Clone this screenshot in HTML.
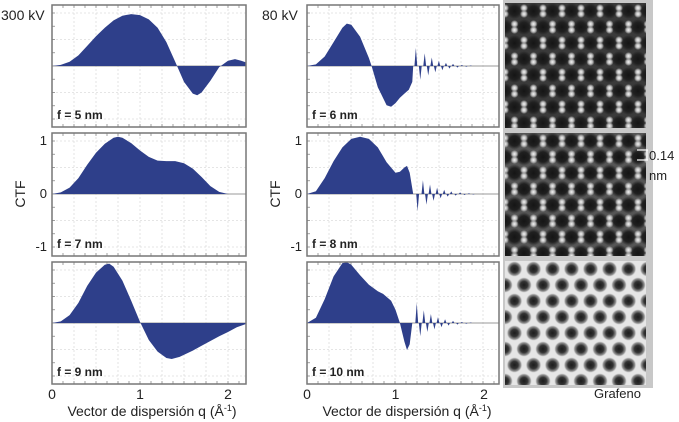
<!DOCTYPE html>
<html><head><meta charset="utf-8"><style>
html,body{margin:0;padding:0;background:#fff;}
svg{display:block;font-family:"Liberation Sans",sans-serif;}
</style></head><body>
<svg id="fig" width="679" height="422" viewBox="0 0 679 422">
<defs>
<radialGradient id="holeG"><stop offset="0" stop-color="#151515"/><stop offset="0.6" stop-color="#202020"/><stop offset="1" stop-color="#202020" stop-opacity="0"/></radialGradient>
<radialGradient id="dotG"><stop offset="0" stop-color="#f4f4f4"/><stop offset="0.5" stop-color="#bbb"/><stop offset="1" stop-color="#bbb" stop-opacity="0"/></radialGradient>
<radialGradient id="holeB"><stop offset="0" stop-color="#1c1c1c"/><stop offset="0.45" stop-color="#333"/><stop offset="0.8" stop-color="#999"/><stop offset="1" stop-color="#ddd" stop-opacity="0"/></radialGradient>
<pattern id="patTop" width="19" height="32" patternUnits="userSpaceOnUse" x="505" y="3">
<rect width="19" height="32" fill="#3a3a3a"/>
<circle cx="9.5" cy="8" r="8" fill="url(#holeG)"/><circle cx="0" cy="24" r="8" fill="url(#holeG)"/><circle cx="19" cy="24" r="8" fill="url(#holeG)"/>
<circle cx="0" cy="5" r="4" fill="url(#dotG)"/><circle cx="19" cy="5" r="4" fill="url(#dotG)"/><circle cx="0" cy="11" r="4" fill="url(#dotG)"/><circle cx="19" cy="11" r="4" fill="url(#dotG)"/>
<circle cx="9.5" cy="21" r="4" fill="url(#dotG)"/><circle cx="9.5" cy="27" r="4" fill="url(#dotG)"/>
</pattern>
<pattern id="patMid" width="19" height="32" patternUnits="userSpaceOnUse" x="505" y="133">
<rect width="19" height="32" fill="#555"/>
<circle cx="9.5" cy="8" r="8.5" fill="url(#holeG)"/><circle cx="0" cy="24" r="8.5" fill="url(#holeG)"/><circle cx="19" cy="24" r="8.5" fill="url(#holeG)"/>
<circle cx="0" cy="5" r="4" fill="url(#dotG)"/><circle cx="19" cy="5" r="4" fill="url(#dotG)"/><circle cx="0" cy="11" r="4" fill="url(#dotG)"/><circle cx="19" cy="11" r="4" fill="url(#dotG)"/>
<circle cx="9.5" cy="21" r="4" fill="url(#dotG)"/><circle cx="9.5" cy="27" r="4" fill="url(#dotG)"/>
</pattern>
<pattern id="patBot" width="19" height="32" patternUnits="userSpaceOnUse" x="505" y="261">
<rect width="19" height="32" fill="#e6e6e6"/>
<circle cx="9.5" cy="8" r="8" fill="url(#holeB)"/><circle cx="0" cy="24" r="8" fill="url(#holeB)"/><circle cx="19" cy="24" r="8" fill="url(#holeB)"/>
</pattern>
</defs>
<g id="panels"></g>
<rect x="503" y="0" width="150" height="388" fill="#c8c8c8"/>
<rect x="505" y="3" width="141" height="125" fill="url(#patTop)"/>
<rect x="505" y="133" width="141" height="123" fill="url(#patMid)"/>
<rect x="505" y="261" width="141" height="124" fill="url(#patBot)"/>
<g>
<line x1="637" y1="150" x2="648" y2="150" stroke="#fff" stroke-width="1.2"/>
<line x1="637" y1="160" x2="648" y2="160" stroke="#fff" stroke-width="1.2"/>
<line x1="647" y1="150" x2="647" y2="160" stroke="#fff" stroke-width="1.2"/>
<text x="649" y="160" font-size="13" fill="#222">0.14</text>
<text x="649" y="180" font-size="13" fill="#222">nm</text>
</g>
<text x="594" y="398" font-size="13" fill="#222">Grafeno</text>
<text x="1" y="20" font-size="14" fill="#222">300 kV</text>
<text x="262" y="20" font-size="14" fill="#222">80 kV</text>
</svg>
<script>
// ---- data ----
const xTicks = [0, 1, 2];
const yTicks = [1, 0, -1];
const focusLabels = ["f = 5 nm", "f = 7 nm", "f = 9 nm", "f = 6 nm", "f = 8 nm", "f = 10 nm"];
const q5 = [0,0.1,0.2,0.3,0.4,0.5,0.6,0.7,0.8,0.9,1.0,1.1,1.2,1.3,1.4,1.5,1.6,1.65,1.7,1.8,1.9,2.0,2.08,2.15,2.2];
const v5 = [0,0.02,0.08,0.2,0.38,0.56,0.72,0.86,0.95,0.98,0.96,0.88,0.72,0.45,0.08,-0.3,-0.52,-0.55,-0.5,-0.28,-0.02,0.1,0.13,0.1,0.07];
const q7 = [0,0.1,0.2,0.3,0.4,0.5,0.6,0.7,0.75,0.8,0.9,1.0,1.1,1.2,1.3,1.4,1.5,1.6,1.7,1.8,1.9,2.0,2.2];
const v7 = [0,0.03,0.12,0.3,0.55,0.78,0.95,1.06,1.08,1.06,0.96,0.82,0.7,0.63,0.62,0.62,0.58,0.48,0.32,0.15,0.04,0,0];
const q9 = [0,0.1,0.2,0.3,0.4,0.5,0.6,0.65,0.7,0.8,0.9,1.0,1.1,1.2,1.3,1.36,1.45,1.6,1.7,1.8,1.9,2.0,2.1,2.2];
const v9 = [0,0.03,0.15,0.38,0.7,0.95,1.1,1.12,1.06,0.8,0.42,0.02,-0.32,-0.54,-0.66,-0.68,-0.64,-0.52,-0.43,-0.34,-0.25,-0.17,-0.08,-0.02];
const q6 = [0,0.1,0.2,0.3,0.4,0.45,0.5,0.6,0.7,0.73,0.8,0.9,0.95,1.0,1.05,1.1,1.15,1.19,1.2,2.2];
const v6 = [0,0.03,0.18,0.45,0.72,0.8,0.78,0.55,0.15,0,-0.4,-0.74,-0.77,-0.7,-0.6,-0.52,-0.45,-0.3,0,0];
const q8 = [0,0.1,0.2,0.3,0.4,0.5,0.6,0.7,0.8,0.9,1.0,1.05,1.1,1.13,1.16,1.2,2.2];
const v8 = [0,0.05,0.3,0.62,0.88,1.04,1.08,1.04,0.88,0.6,0.4,0.42,0.5,0.53,0.4,0,0];
const q10 = [0,0.1,0.2,0.3,0.4,0.45,0.5,0.6,0.7,0.8,0.86,0.95,1.0,1.05,1.1,1.13,1.16,1.19,2.2];
const v10 = [0,0.1,0.45,0.88,1.13,1.15,1.1,0.9,0.72,0.6,0.55,0.42,0.25,0,-0.35,-0.51,-0.4,0,0];
const osc6q = [1.23,1.28,1.33,1.37,1.41,1.45,1.49,1.53,1.57,1.61,1.65,1.7,1.75,1.8,1.85];
const osc6v = [0.34,-0.26,0.24,-0.18,0.16,-0.12,0.1,-0.08,0.06,-0.05,0.04,-0.03,0.02,-0.015,0.01];
const osc8q = [1.25,1.31,1.35,1.39,1.43,1.47,1.51,1.55,1.59,1.63,1.68,1.73,1.78,1.83,1.88];
const osc8v = [-0.32,0.26,-0.2,0.18,-0.13,0.12,-0.08,0.08,-0.05,0.05,-0.03,0.03,-0.02,0.015,-0.01];
const osc10q = [1.24,1.28,1.32,1.36,1.40,1.44,1.48,1.52,1.56,1.60,1.65,1.7,1.75,1.8,1.85];
const osc10v = [0.38,-0.25,0.24,-0.17,0.17,-0.12,0.11,-0.08,0.07,-0.05,0.04,-0.03,0.02,-0.015,0.01];

const NS = "http://www.w3.org/2000/svg";
const root = document.getElementById("panels");
function mk(tag, attrs, parent) {
  const e = document.createElementNS(NS, tag);
  for (const k in attrs) e.setAttribute(k, attrs[k]);
  (parent || root).appendChild(e);
  return e;
}
const cols = [{x0: 52, x1: 246, ppu: 88}, {x0: 307, x1: 499, ppu: 88.5}];
const rows = [{top: 5, bot: 127, zero: 66}, {top: 133, bot: 256, zero: 194}, {top: 262, bot: 384, zero: 323}];
const AMP = 53;
const panels = [
  {c: 0, r: 0, q: q5, v: v5, oq: [], ov: [], lab: focusLabels[0]},
  {c: 0, r: 1, q: q7, v: v7, oq: [], ov: [], lab: focusLabels[1]},
  {c: 0, r: 2, q: q9, v: v9, oq: [], ov: [], lab: focusLabels[2]},
  {c: 1, r: 0, q: q6, v: v6, oq: osc6q, ov: osc6v, lab: focusLabels[3]},
  {c: 1, r: 1, q: q8, v: v8, oq: osc8q, ov: osc8v, lab: focusLabels[4]},
  {c: 1, r: 2, q: q10, v: v10, oq: osc10q, ov: osc10v, lab: focusLabels[5]}
];
panels.forEach((p, i) => {
  const C = cols[p.c], R = rows[p.r];
  const sx = q => C.x0 + q * C.ppu;
  const sy = v => R.zero - v * AMP;
  const g = mk("g", {});
  
  
  mk("rect", {x: C.x0, y: R.top, width: C.x1 - C.x0, height: R.bot - R.top, fill: "#fff"}, g);
  for (let gx = C.x0 + 22; gx < C.x1; gx += 22) mk("line", {x1: gx, y1: R.top, x2: gx, y2: R.bot, stroke: "#ddd", "stroke-width": 0.8, "stroke-dasharray": "2,2"}, g);
  for (let k = -2; k <= 2; k++) { const gy = R.zero + k * 26.5; if (gy > R.top && gy < R.bot) mk("line", {x1: C.x0, y1: gy, x2: C.x1, y2: gy, stroke: "#ddd", "stroke-width": 0.8, "stroke-dasharray": "2,2"}, g); }
  for (let gx = C.x0 + 11; gx < C.x1; gx += 11) { mk("line", {x1: gx, y1: R.bot, x2: gx, y2: R.bot - 3, stroke: "#888", "stroke-width": 0.8}, g); mk("line", {x1: gx, y1: R.top, x2: gx, y2: R.top + 3, stroke: "#888", "stroke-width": 0.8}, g); }
  for (let gy = R.zero - 106; gy <= R.zero + 106; gy += 13.25) if (gy > R.top && gy < R.bot) mk("line", {x1: C.x0, y1: gy, x2: C.x0 + 3, y2: gy, stroke: "#888", "stroke-width": 0.8}, g);
  mk("line", {x1: C.x0, y1: R.zero, x2: C.x1, y2: R.zero, stroke: "#999", "stroke-width": 1}, g);
  let d = "M" + sx(p.q[0]) + "," + R.zero;
  p.q.forEach((q, j) => { d += " L" + sx(q).toFixed(1) + "," + sy(p.v[j]).toFixed(1); });
  d += " L" + sx(p.q[p.q.length - 1]) + "," + R.zero + " Z";
  const area = mk("path", {d: d, fill: "#2e3f8a"}, g);
  
  
  p.oq.forEach((q, j) => {
    const hw = 0.016;
    const sp = mk("path", {d: "M" + sx(q - hw) + "," + R.zero + " L" + sx(q) + "," + sy(p.ov[j]) + " L" + sx(q + hw) + "," + R.zero + " Z", fill: "#2e3f8a"}, g);
    
    
  });
  mk("rect", {x: C.x0, y: R.top, width: C.x1 - C.x0, height: R.bot - R.top, fill: "none", stroke: "#777", "stroke-width": 1.5}, g);
  const t = mk("text", {x: C.x0 + 5, y: R.bot - 8, "font-size": 12, "font-weight": "bold", fill: "#222"}, g);
  t.textContent = p.lab;
  
  
  if (p.r === 1) {
    yTicks.forEach(v => {
      const yt = mk("text", {x: C.x0 - 5, y: sy(v) + 4, "font-size": 13, "text-anchor": "end", fill: "#222"});
      yt.textContent = v;
      
      
    });
    const ya = mk("text", {x: 0, y: 0, "font-size": 14, "text-anchor": "middle", fill: "#222", transform: "translate(" + (C.x0 - 27) + "," + R.zero + ") rotate(-90)"});
    ya.textContent = "CTF";
    
    
  }
  if (p.r === 2) {
    xTicks.forEach(v => {
      const xt = mk("text", {x: sx(v), y: 399, "font-size": 14, "text-anchor": "middle", fill: "#222"});
      xt.textContent = v;
      
      
    });
    const xa = mk("text", {x: C.x0 + 100, y: 416, "font-size": 14, "text-anchor": "middle", fill: "#222"});
    xa.innerHTML = 'Vector de dispersión q (Å<tspan font-size="9" dy="-5">-1</tspan><tspan dy="5">)</tspan>';
    
    
  }
});
</script>
</body></html>
